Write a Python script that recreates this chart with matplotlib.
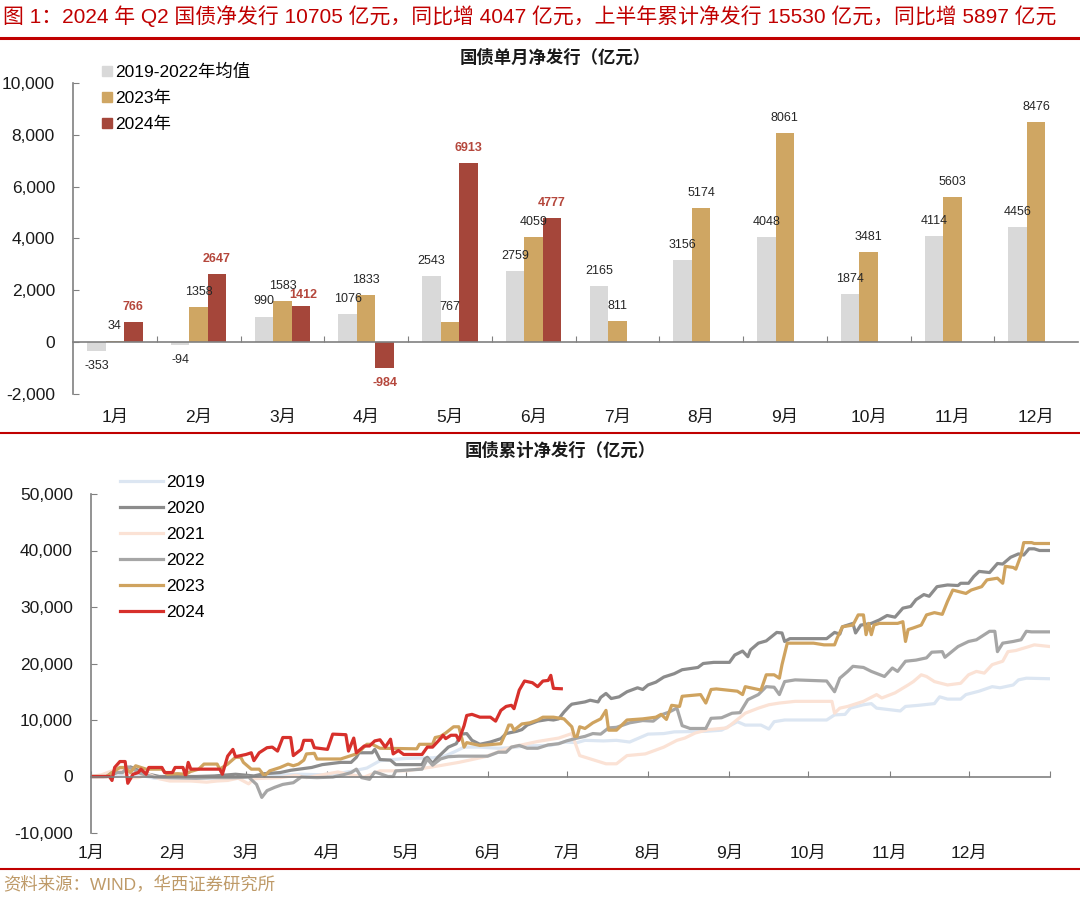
import matplotlib

matplotlib.use("Agg")
import matplotlib.pyplot as plt
import numpy as np
from matplotlib.lines import Line2D
from matplotlib.patches import Patch
from matplotlib.ticker import FuncFormatter

plt.rcParams["font.family"] = ["Liberation Sans", "Noto Sans CJK SC"]

# ---- monthly net issuance (亿元) ----
months = ["1月", "2月", "3月", "4月", "5月", "6月", "7月", "8月", "9月", "10月", "11月", "12月"]
avg_1922 = [-353, -94, 990, 1076, 2543, 2759, 2165, 3156, 4048, 1874, 4114, 4456]
net_2023 = [34, 1358, 1583, 1833, 767, 4059, 811, 5174, 8061, 3481, 5603, 8476]
net_2024 = [766, 2647, 1412, -984, 6913, 4777]

# ---- cumulative net issuance, (day of year, 亿元) ----
month_start = [0, 31, 59, 90, 120, 151, 181, 212, 243, 273, 304, 334, 365]

cum_2019 = [(0, 0), (10, 0), (14, 600), (18, 300), (24, -300), (30, -400), (40, -300), (55, -200),
            (62, 0), (70, 200), (80, 400), (88, 300), (95, 600), (100, 1000), (105, 1500),
            (110, 2800), (115, 3000), (120, 3200), (130, 3300), (134, 3500), (138, 4300),
            (142, 5200), (148, 5200), (155, 5000), (160, 5100), (165, 5400), (175, 5500),
            (180, 6100), (185, 6000), (188, 6400), (195, 6300), (200, 6400), (205, 6100),
            (212, 7500), (218, 7600), (222, 7900), (234, 8000), (240, 8200), (246, 9700),
            (249, 9100), (255, 9100), (258, 8400), (260, 9700), (264, 10000), (280, 10000),
            (283, 10900), (287, 11000), (289, 12100), (294, 12700), (297, 12900), (299, 12100),
            (308, 11600), (310, 12400), (315, 12600), (321, 12900), (323, 14100), (326, 13700),
            (331, 13700), (333, 14500), (338, 15100), (343, 15900), (346, 15700), (351, 16200),
            (353, 17100), (356, 17400), (365, 17300)]

cum_2020 = [(0, 0), (5, 0), (8, 400), (12, 1000), (15, 1700), (17, 1300), (21, 500), (26, 0),
            (40, 0), (47, 100), (55, 400), (62, 100), (66, 500), (72, 700), (76, 1100),
            (84, 1600), (88, 2100), (95, 2500), (99, 2500), (101, 3400), (102, 4200),
            (107, 4200), (108, 4800), (110, 3000), (114, 2900), (116, 2100), (126, 2100),
            (127, 3100), (128, 3400), (130, 2300), (132, 3400), (134, 4300), (136, 5200),
            (139, 5800), (141, 7500), (143, 7600), (145, 6400), (148, 5700), (152, 6100),
            (156, 6700), (158, 7600), (162, 8000), (164, 8300), (166, 9100), (170, 9800),
            (174, 10100), (176, 10000), (178, 10200), (180, 11400), (182, 12400), (183, 12800),
            (188, 13200), (190, 13500), (193, 13200), (194, 14000), (196, 14700), (198, 13800),
            (201, 14100), (204, 15000), (208, 15700), (210, 15400), (212, 16200), (215, 16700),
            (218, 17600), (222, 18200), (225, 18900), (228, 19100), (231, 19300), (233, 20000),
            (237, 20200), (243, 20200), (245, 21500), (248, 22200), (250, 21200), (251, 22400),
            (254, 23600), (257, 24000), (261, 25500), (263, 25400), (264, 23900), (266, 24400),
            (280, 24400), (283, 25500), (285, 25200), (286, 26500), (290, 27100), (291, 25400),
            (293, 26800), (297, 27100), (300, 27700), (303, 28500), (306, 28200), (309, 29800),
            (312, 30100), (314, 31300), (317, 32200), (319, 31900), (322, 33600), (326, 33900),
            (330, 33800), (331, 34200), (334, 34200), (336, 35400), (338, 36300), (342, 36100),
            (345, 37700), (347, 37600), (350, 38800), (353, 39400), (355, 39200), (357, 40300),
            (359, 40300), (361, 40000), (365, 40000)]

cum_2021 = [(0, 0), (4, 300), (8, 1000), (12, 1200), (14, -300), (18, -200), (22, 400),
            (26, -400), (30, -800), (38, -800), (44, -1000), (48, -800), (52, -700), (56, -300),
            (60, -1300), (62, -400), (66, -300), (72, -200), (78, 200), (82, -200), (88, 300),
            (94, 800), (98, 400), (104, -100), (110, 1000), (120, 1000), (130, 1700),
            (140, 2500), (150, 3500), (160, 5200), (170, 6200), (178, 6800), (183, 7600),
            (186, 3700), (196, 2250), (200, 2250), (204, 3700), (211, 4000), (218, 5200),
            (223, 6400), (226, 6800), (230, 7700), (235, 8300), (242, 8600), (245, 9700),
            (249, 11200), (254, 12100), (258, 12700), (262, 13000), (268, 13300), (282, 13300),
            (283, 11200), (285, 12100), (288, 12400), (294, 13300), (299, 14500), (301, 13900),
            (306, 14800), (311, 16200), (313, 16800), (316, 18000), (318, 17700), (321, 16800),
            (326, 16200), (331, 16500), (334, 18000), (337, 18600), (340, 18300), (343, 19800),
            (347, 20400), (349, 22100), (352, 22300), (357, 23000), (359, 23300), (365, 23000)]

cum_2022 = [(0, 0), (6, 0), (8, 700), (12, 700), (14, 1700), (16, 1300), (19, 500), (24, -100),
            (30, -200), (40, -300), (46, -200), (55, -200), (60, -100), (63, -1400),
            (65, -3700), (67, -2500), (70, -1900), (73, -1400), (77, -1100), (80, -100),
            (86, -200), (92, -100), (96, 300), (99, 700), (101, 1300), (103, -200), (106, -500),
            (108, 800), (110, 500), (113, 0), (115, 0), (116, 1000), (126, 1300), (128, 3100),
            (130, 2000), (133, 3100), (136, 3500), (140, 3600), (151, 3600), (155, 4300),
            (158, 4300), (160, 5200), (163, 5500), (166, 5000), (170, 5000), (174, 5600),
            (178, 5800), (181, 6300), (185, 6800), (188, 7100), (191, 7600), (194, 7500),
            (197, 8600), (200, 8700), (205, 9500), (210, 9900), (214, 9800), (217, 10900),
            (220, 11400), (223, 12100), (225, 9000), (228, 8500), (234, 8500), (236, 10300),
            (240, 10400), (244, 11200), (247, 11300), (250, 13600), (254, 14500), (257, 15900),
            (260, 15800), (262, 14500), (264, 16800), (268, 17100), (280, 16900), (283, 15000),
            (285, 17400), (288, 18600), (290, 19500), (294, 19300), (297, 18600), (302, 17700),
            (305, 19200), (307, 18600), (310, 20400), (314, 20600), (318, 21000), (320, 22000),
            (324, 22100), (325, 21100), (330, 23000), (334, 23900), (337, 24200), (339, 24800),
            (342, 25700), (344, 25700), (345, 22100), (347, 23600), (351, 23900), (354, 24200),
            (356, 25700), (358, 25600), (365, 25600)]

cum_2023 = [(0, 0), (6, 0), (8, 700), (11, 1600), (13, 1600), (15, 700), (17, 1900), (19, 1600),
            (21, 1300), (27, 1300), (29, 400), (33, 500), (36, 400), (38, 900), (41, 1300),
            (43, 2200), (48, 2200), (49, 1300), (52, 2200), (55, 3400), (57, 3400), (58, 2500),
            (61, 1300), (64, 1300), (66, 100), (68, 1000), (72, 1600), (75, 2200), (77, 1900),
            (79, 2200), (81, 2900), (82, 4000), (85, 4100), (86, 3100), (95, 3100), (97, 3400),
            (101, 4000), (103, 4800), (105, 5700), (107, 5700), (110, 5000), (124, 4900),
            (125, 5700), (130, 5700), (131, 6900), (133, 7100), (135, 7700), (138, 8800),
            (140, 8800), (142, 5200), (143, 6000), (145, 5800), (148, 5500), (156, 5800),
            (158, 7900), (159, 9100), (160, 9100), (161, 8200), (164, 9300), (167, 9500),
            (170, 10000), (172, 10500), (176, 10500), (180, 10200), (183, 8800), (184, 7100),
            (185, 7100), (186, 8800), (188, 8500), (191, 9500), (194, 10200), (196, 11700),
            (197, 8200), (200, 8200), (204, 10000), (210, 10200), (215, 10500), (217, 11000),
            (219, 10100), (221, 12600), (224, 12400), (225, 14200), (232, 14500), (234, 13000),
            (236, 15400), (238, 15500), (246, 15100), (248, 14500), (249, 15900), (252, 15600),
            (255, 15300), (257, 18000), (260, 18000), (262, 17400), (263, 19800), (265, 23600),
            (275, 23600), (279, 23300), (283, 23300), (284, 24500), (286, 26500), (290, 26800),
            (292, 28600), (294, 28600), (295, 25100), (296, 27100), (297, 25100), (298, 26800),
            (300, 27100), (307, 27100), (309, 27400), (310, 23900), (311, 26000), (313, 26300),
            (316, 26800), (318, 28600), (321, 29000), (324, 28700), (326, 31000), (328, 33000),
            (333, 32400), (335, 33000), (339, 33600), (341, 34800), (345, 35100), (347, 34200),
            (348, 37200), (351, 37000), (352, 36700), (354, 39200), (355, 41400), (358, 41400),
            (359, 41240), (365, 41240)]

cum_2024 = [(0, 0), (7, 0), (8, -700), (9, 1600), (11, 2650), (13, 2650), (14, -1200), (16, 400),
            (18, 700), (19, 1300), (21, 400), (22, 1600), (27, 1600), (28, 700), (31, 700),
            (32, 1600), (35, 1600), (36, 100), (37, 2500), (38, 1300), (49, 1300), (50, 400),
            (52, 3600), (54, 4800), (55, 3500), (59, 3900), (61, 4200), (62, 2800), (64, 4200),
            (67, 5100), (69, 5200), (71, 4500), (73, 6900), (76, 6900), (77, 3700), (80, 4800),
            (81, 6400), (84, 6400), (85, 5100), (90, 4800), (92, 7500), (97, 7400), (98, 4500),
            (100, 6800), (101, 4200), (104, 5400), (106, 5400), (108, 6300), (110, 6500),
            (112, 5200), (114, 6600), (115, 4000), (117, 4600), (119, 3900), (126, 3900),
            (128, 5200), (130, 5200), (133, 6700), (134, 7300), (135, 6700), (137, 7300),
            (139, 7300), (140, 6400), (142, 9000), (143, 10800), (145, 11000), (148, 10500),
            (152, 10500), (154, 9800), (156, 11700), (158, 12400), (160, 12600), (161, 12000),
            (163, 15300), (165, 16900), (168, 16600), (170, 15900), (172, 16900), (174, 17000),
            (175, 17900), (176, 15600), (179, 15530)]

years = ["2019", "2020", "2021", "2022", "2023", "2024"]
line_colors = ["#DCE6F2", "#8C8C8C", "#FBE2D5", "#A6A6A6", "#CFA35F", "#D7302B"]
cum_series = [cum_2019, cum_2020, cum_2021, cum_2022, cum_2023, cum_2024]

C_AVG, C_23, C_24 = "#D9D9D9", "#CFA663", "#A5463A"
AXIS_GREY = "#808080"
RED = "#C00000"

W, H = 1080, 907


def fx(px):
    return px / W


def fy(py):
    return 1 - py / H


fig = plt.figure(figsize=(W / 100, H / 100), dpi=100)

# header, rules, footer
fig.text(fx(3), fy(16), "图 1：2024 年 Q2 国债净发行 10705 亿元，同比增 4047 亿元，上半年累计净发行 15530 亿元，同比增 5897 亿元",
         color=RED, fontsize=15, va="center", ha="left")
for py, lw in [(38, 2.2), (433, 1.5), (869, 1.5)]:
    fig.add_artist(Line2D([0, 1], [fy(py), fy(py)], color=RED, lw=lw, transform=fig.transFigure))
fig.text(fx(3), fy(885), "资料来源：WIND，华西证券研究所", color="#BE9A68", fontsize=12.5, va="center", ha="left")

comma = FuncFormatter(lambda v, _: f"{int(v):,}")

# ---- top: monthly bars ----
ax1 = fig.add_axes([fx(73), fy(394), fx(1078) - fx(73), fy(83) - fy(394)])
x = np.arange(len(months))
bw = 0.22
ax1.bar(x - bw, avg_1922, bw, color=C_AVG, zorder=2)
ax1.bar(x, net_2023, bw, color=C_23, zorder=2)
ax1.bar(np.arange(len(net_2024)) + bw, net_2024, bw, color=C_24, zorder=2)


def label_bars(xs, vals, nudge=None, **kw):
    nudge = nudge or {}
    for xi, v in zip(xs, vals):
        up = v >= 0
        dx, dy = nudge.get(v, (0, 0))
        ax1.annotate(str(v), (xi, v), xytext=(dx, (6.5 if up else -6.5) + dy),
                     textcoords="offset points", ha="center",
                     va="bottom" if up else "top", fontsize=9, **kw)


label_bars(x - bw, avg_1922, color="#262626")
label_bars(x, net_2023, color="#262626")
# the 1412 label sits a little lower and to the right in the source, next to 1583
label_bars(np.arange(len(net_2024)) + bw, net_2024, nudge={1412: (2, -3.5)},
           color="#B5473C", fontweight="bold")

ax1.set_xlim(-0.5, len(months) - 0.5)
ax1.set_ylim(-2000, 10000)
ax1.set_yticks(np.arange(-2000, 10001, 2000))
ax1.yaxis.set_major_formatter(comma)
ax1.set_xticks(np.arange(0.5, len(months) - 0.5, 1))
ax1.set_xticklabels([])
ax1.tick_params(axis="both", direction="in", length=4, color=AXIS_GREY, labelsize=12.5,
                labelcolor="#1a1a1a")
ax1.tick_params(axis="y", pad=13)
for s in ("top", "right"):
    ax1.spines[s].set_visible(False)
ax1.spines["bottom"].set_position(("data", 0))
for s in ("bottom", "left"):
    ax1.spines[s].set_color(AXIS_GREY)
    ax1.spines[s].set_linewidth(1.2)
for xi, m in zip(x, months):
    ax1.text(xi, -0.075, m, transform=ax1.get_xaxis_transform(), ha="center", va="center",
             fontsize=12.5, color="#1a1a1a")
ax1.legend(handles=[Patch(color=C_AVG, label="2019-2022年均值"),
                    Patch(color=C_23, label="2023年"),
                    Patch(color=C_24, label="2024年")],
           loc="upper left", bbox_to_anchor=(fx(102), fy(64)), bbox_transform=fig.transFigure,
           frameon=False, fontsize=12.5, handlelength=0.55, handleheight=0.55,
           handletextpad=0.2, labelspacing=0.62, borderpad=0, borderaxespad=0)
fig.text(fx(555), fy(57), "国债单月净发行（亿元）", ha="center", va="center", fontsize=12.5,
         fontweight="bold", color="#1a1a1a")

# ---- bottom: cumulative lines ----
ax2 = fig.add_axes([fx(91), fy(833), fx(1050) - fx(91), fy(494) - fy(833)])
for name, pts, c in zip(years, cum_series, line_colors):
    d, v = zip(*pts)
    ax2.plot(d, v, color=c, lw=2.3, label=name)
ax2.set_xlim(0, 365)
ax2.set_ylim(-10000, 50000)
ax2.set_yticks(np.arange(-10000, 50001, 10000))
ax2.yaxis.set_major_formatter(comma)
ax2.set_xticks(month_start)
ax2.set_xticklabels([])
ax2.tick_params(axis="both", direction="in", length=4, color=AXIS_GREY, labelsize=12.5,
                labelcolor="#1a1a1a")
ax2.tick_params(axis="y", pad=13)
for s in ("top", "right"):
    ax2.spines[s].set_visible(False)
ax2.spines["bottom"].set_position(("data", 0))
for s in ("bottom", "left"):
    ax2.spines[s].set_color(AXIS_GREY)
    ax2.spines[s].set_linewidth(1.2)
for d, m in zip(month_start, months):
    ax2.text(d, -0.06, m, transform=ax2.get_xaxis_transform(), ha="center", va="center",
             fontsize=12.5, color="#1a1a1a")
ax2.legend(loc="upper left", bbox_to_anchor=(fx(120), fy(475)), bbox_transform=fig.transFigure,
           frameon=False, fontsize=12.5, handlelength=2.5, handletextpad=0.15,
           labelspacing=0.62, borderpad=0, borderaxespad=0)
fig.text(fx(560), fy(450), "国债累计净发行（亿元）", ha="center", va="center", fontsize=12.5,
         fontweight="bold", color="#1a1a1a")

fig.savefig("out.png", dpi=100)
